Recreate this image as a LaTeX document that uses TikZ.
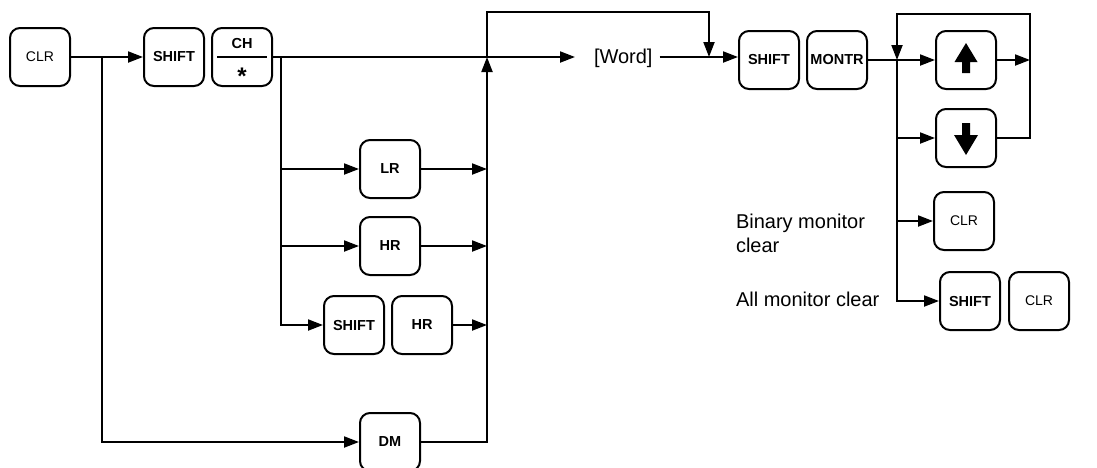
\documentclass[tikz,border=0pt]{standalone}
\usepackage{fontspec}
\setmainfont{Liberation Sans}
\usetikzlibrary{arrows.meta,calc}
\begin{document}
\begin{tikzpicture}[x=1pt,y=-1pt,
  line width=2pt,
  key/.style={draw,rectangle,rounded corners=10pt,minimum width=60pt,minimum height=58pt,inner sep=0pt,font=\fontsize{14.5}{17}\selectfont\bfseries},
  keyr/.style={key,font=\fontsize{14}{17}\selectfont},
  arr/.style={-{Triangle[length=15pt,width=11pt]}},
  lbl/.style={font=\fontsize{20}{24}\selectfont,inner sep=0pt,align=left}]
\useasboundingbox (0,0) rectangle (1097,467);
% keys
\node[keyr] (clr1) at (40,57) {CLR};
\node[key] (sh1) at (174,57) {SHIFT};
\node[key] (ch) at (242,57) {};
\node[key] (lr) at (390,169) {LR};
\node[key] (hr) at (390,246) {HR};
\node[key] (sh2) at (354,325) {SHIFT};
\node[key] (hr2) at (422,325) {HR};
\node[key] (dm) at (390,442) {DM};
\node[lbl,anchor=base west] (word) at (593,63) {[Word]};
\node[key] (sh3) at (769,60) {SHIFT};
\node[key] (mon) at (837,60) {MONTR};
\node[key] (up) at (966,60) {};
\node[key] (dn) at (966,138) {};
\node[keyr] (clr2) at (964,221) {CLR};
\node[key] (sh4) at (970,301) {SHIFT};
\node[keyr] (clr3) at (1039,301) {CLR};
% CH / * key face
\node[font=\fontsize{14.5}{17}\selectfont\bfseries,anchor=base,inner sep=0pt] (chtext) at (242,48.5) {CH};
\draw ([xshift=-25pt]ch.center) -- ([xshift=25pt]ch.center);
\node[font=\fontsize{24}{24}\selectfont\bfseries,anchor=base,inner sep=0pt] (chstar) at (242,84) {*};
% arrow glyphs
\fill[shift={(up.center)}] (0,-17) -- (11.5,2) -- (4,2) -- (4,13) -- (-4,13) -- (-4,2) -- (-11.5,2) -- cycle;
\fill[shift={(dn.center)}] (0,17) -- (12,-3) -- (4,-3) -- (4,-15) -- (-4,-15) -- (-4,-3) -- (-12,-3) -- cycle;
% labels
\node[lbl,anchor=north west] (bin) at (735,213) {Binary monitor\\clear};
\node[lbl,anchor=base west] (all) at (735,306) {All monitor clear};
% junctions
\coordinate (j1) at (102,57);
\coordinate (j2) at (281,57);
\coordinate (j3) at (487,57);
\coordinate (t3) at (487,12);
\coordinate (t4) at (709,12);
\coordinate (j5) at (709,57);
\coordinate (j4) at (897,60);
\coordinate (t5) at (897,14);
\coordinate (t6) at (1030,14);
\coordinate (j6) at (1030,60);
% connectors
\draw (clr1.east) -- (j1);
\draw[arr] (j1) -- (sh1.west);
\draw[arr] (j1) |- (dm.west);
\draw (ch.east) -- (j2);
\draw[arr,shorten >=18pt] (j2) -- (j2 -| word.west);
\draw[arr] (j2) |- (lr.west);
\draw[arr] (j2) |- (hr.west);
\draw[arr] (j2) |- (sh2.west);
\draw[arr] (lr.east) -- (lr.east -| j3);
\draw[arr] (hr.east) -- (hr.east -| j3);
\draw[arr] (hr2.east) -- (hr2.east -| j3);
\draw[arr] (dm.east) -| (j3);
\draw[arr] (j3) -- (t3) -- (t4) -- (j5);
\draw[arr,shorten <=6pt] (word.east |- j5) -- (j5 -| sh3.west);
\draw (mon.east) -- (j4);
\draw[arr] (j4) -- (up.west);
\draw[arr] (up.east) -- (j6);
\draw[arr] (dn.east) -| (t6) -- (t5) -- (j4);
\draw[arr] (j4) |- (dn.west);
\draw[arr] (j4) |- (clr2.west);
\draw[arr] (j4) |- (sh4.west);
\end{tikzpicture}
\end{document}
